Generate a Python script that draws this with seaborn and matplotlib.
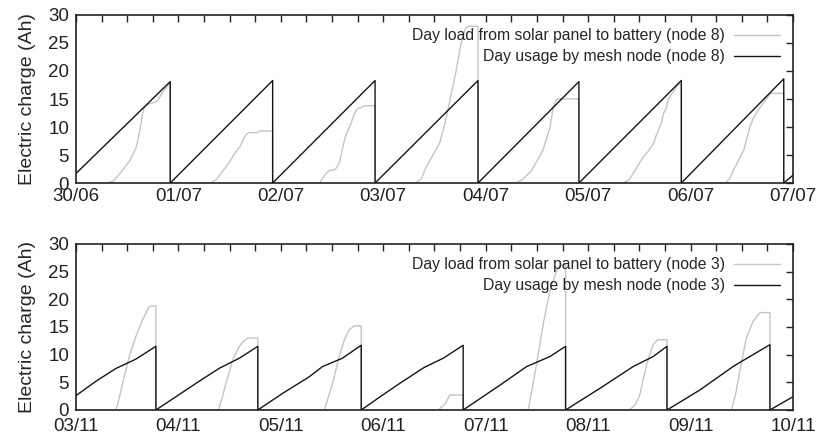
import matplotlib
matplotlib.use("Agg")
import matplotlib.pyplot as plt
from matplotlib.ticker import MultipleLocator
import pandas as pd
import seaborn as sns

# ---- Node 8, 30/06 - 07/07 (x in days since first tick) ----
july_ticks = ["30/06", "01/07", "02/07", "03/07", "04/07", "05/07", "06/07", "07/07"]

july_usage_t = [0.0, 0.92, 0.92, 1.92, 1.92, 2.92, 2.92, 3.925, 3.925,
                4.91, 4.91, 5.91, 5.91, 6.91, 6.91, 7.0]
july_usage_v = [1.7, 18.1, 0.0, 18.3, 0.0, 18.3, 0.0, 18.3, 0.0,
                18.1, 0.0, 18.3, 0.0, 18.6, 0.0, 1.4]

july_solar_t = [0.0, 0.30, 0.36, 0.43, 0.53, 0.59, 0.625, 0.65, 0.67, 0.72, 0.77, 0.80, 0.85, 0.885, 0.92, 0.92,
                1.31, 1.37, 1.44, 1.50, 1.54, 1.58, 1.60, 1.63, 1.66, 1.69, 1.77, 1.80, 1.92, 1.92,
                2.38, 2.44, 2.47, 2.53, 2.57, 2.60, 2.63, 2.68, 2.72, 2.75, 2.79, 2.81, 2.92, 2.92,
                3.31, 3.37, 3.42, 3.55, 3.60, 3.63, 3.70, 3.76, 3.80, 3.83, 3.925, 3.925,
                4.29, 4.36, 4.45, 4.56, 4.63, 4.66, 4.69, 4.72, 4.91, 4.91,
                5.345, 5.40, 5.44, 5.50, 5.54, 5.58, 5.64, 5.665, 5.69, 5.72, 5.735, 5.76, 5.78, 5.82, 5.85, 5.87, 5.91, 5.91,
                6.34, 6.38, 6.42, 6.52, 6.58, 6.62, 6.66, 6.73, 6.76, 6.78, 6.91, 6.91, 7.0]
july_solar_v = [0.0, 0.0, 0.3, 1.7, 4.1, 6.5, 9.5, 12.4, 13.6, 14.2, 14.4, 14.8, 16.3, 17.1, 18.0, 0.0,
                0.0, 0.6, 2.3, 3.8, 5.0, 6.1, 6.4, 7.7, 8.6, 9.0, 9.0, 9.3, 9.3, 0.0,
                0.0, 1.7, 2.2, 2.4, 3.5, 6.0, 8.3, 10.4, 12.5, 13.3, 13.5, 13.8, 13.8, 0.0,
                0.0, 0.7, 2.9, 7.1, 10.5, 13.0, 19.0, 24.9, 27.5, 28.0, 28.0, 0.0,
                0.0, 0.6, 2.3, 5.9, 10.1, 13.6, 14.9, 15.0, 15.0, 0.0,
                0.0, 0.6, 1.7, 3.5, 4.7, 5.5, 7.1, 8.5, 9.5, 11.0, 12.4, 13.2, 14.8, 16.0, 16.8, 17.5, 17.6, 0.0,
                0.0, 0.7, 2.3, 5.9, 10.1, 11.8, 13.0, 14.8, 15.5, 16.0, 16.0, 0.0, 0.0]

# ---- Node 3, 03/11 - 10/11 ----
nov_ticks = ["03/11", "04/11", "05/11", "06/11", "07/11", "08/11", "09/11", "10/11"]

nov_usage_t = [0.0, 0.195, 0.39, 0.585, 0.78, 0.78,
               0.976, 1.17, 1.40, 1.594, 1.775, 1.775,
               2.017, 2.277, 2.407, 2.60, 2.785, 2.785,
               2.97, 3.16, 3.40, 3.59, 3.78, 3.78,
               4.14, 4.40, 4.626, 4.78, 4.78,
               5.114, 5.44, 5.634, 5.77, 5.77,
               6.09, 6.415, 6.578, 6.775, 6.775, 7.0]
nov_usage_v = [2.6, 5.2, 7.5, 9.2, 11.5, 0.0,
               2.4, 4.8, 7.55, 9.35, 11.5, 0.0,
               3.0, 6.0, 7.85, 9.35, 11.7, 0.0,
               2.4, 4.8, 7.7, 9.4, 11.7, 0.0,
               4.5, 7.85, 9.65, 11.5, 0.0,
               3.9, 7.85, 9.65, 11.5, 0.0,
               3.6, 7.85, 9.65, 11.8, 0.0, 2.4]

nov_solar_t = [0.0, 0.39, 0.42, 0.455, 0.52, 0.585, 0.65, 0.69, 0.716, 0.78, 0.78,
               1.392, 1.43, 1.464, 1.53, 1.594, 1.63, 1.66, 1.69, 1.775, 1.775,
               2.424, 2.465, 2.505, 2.57, 2.62, 2.667, 2.716, 2.785, 2.785,
               3.536, 3.60, 3.65, 3.78, 3.78,
               4.414, 4.45, 4.496, 4.56, 4.626, 4.69, 4.72, 4.78, 4.78,
               5.406, 5.46, 5.504, 5.57, 5.634, 5.68, 5.77, 5.77,
               6.40, 6.44, 6.48, 6.545, 6.61, 6.675, 6.69, 6.775, 6.775, 7.0]
nov_solar_v = [0.0, 0.0, 2.0, 4.8, 9.7, 13.3, 16.3, 17.8, 18.7, 18.8, 0.0,
               0.0, 2.4, 4.8, 9.05, 11.5, 12.3, 12.8, 13.0, 13.0, 0.0,
               0.0, 2.4, 4.8, 9.7, 12.7, 14.5, 15.2, 15.2, 0.0,
               0.0, 1.0, 2.7, 2.7, 0.0,
               0.0, 3.5, 8.2, 15.4, 21.4, 25.1, 26.0, 26.3, 0.0,
               0.0, 1.0, 2.7, 8.15, 11.8, 12.7, 12.7, 0.0,
               0.0, 2.8, 6.9, 13.0, 16.0, 17.5, 17.6, 17.6, 0.0, 0.0]

y_ticks = [0, 5, 10, 15, 20, 25, 30]

sns.set_style("white")
plt.rcParams["font.family"] = ["Liberation Sans", "DejaVu Sans"]

SOLAR_COLOR = "#c4c4c4"
USAGE_COLOR = "#151515"

fig = plt.figure(figsize=(8.18, 4.37), dpi=100)
ax_top = fig.add_axes([0.0929, 0.5812, 0.8765, 0.3845])
ax_bot = fig.add_axes([0.0929, 0.0618, 0.8765, 0.3799])


def draw_panel(ax, solar_t, solar_v, usage_t, usage_v, ticks, node, xpad):
    solar = pd.DataFrame({"t": solar_t, "v": solar_v})
    usage = pd.DataFrame({"t": usage_t, "v": usage_v})
    sns.lineplot(data=solar, x="t", y="v", sort=False, estimator=None, ax=ax,
                 color=SOLAR_COLOR, lw=1.0,
                 label=f"Day load from solar panel to battery (node {node})")
    sns.lineplot(data=usage, x="t", y="v", sort=False, estimator=None, ax=ax,
                 color=USAGE_COLOR, lw=1.0,
                 label=f"Day usage by mesh node (node {node})")
    ax.set_xlim(0, 7)
    ax.set_ylim(0, 30)
    ax.set_xticks(range(len(ticks)))
    ax.set_xticklabels(ticks)
    ax.set_yticks(y_ticks)
    ax.xaxis.set_minor_locator(MultipleLocator(0.25))
    ax.tick_params(which="both", direction="in", top=True, right=True,
                   length=5, width=1.0, colors="#222222")
    ax.tick_params(axis="y", which="minor", left=False, right=False)
    ax.tick_params(axis="x", which="major", labelsize=13.5, pad=xpad)
    ax.tick_params(axis="y", which="major", labelsize=13.5, pad=5)
    for sp in ax.spines.values():
        sp.set_visible(True)
        sp.set_linewidth(1.2)
        sp.set_color("#222222")
    ax.set_xlabel("")
    ax.set_ylabel("Electric charge (Ah)", fontsize=14, labelpad=9)
    ax.legend(loc="upper right", frameon=False, markerfirst=False,
              alignment="right", fontsize=11.3, handlelength=2.9,
              handletextpad=0.6, labelspacing=0.38, borderaxespad=0.45,
              borderpad=0.4)


draw_panel(ax_top, july_solar_t, july_solar_v, july_usage_t, july_usage_v, july_ticks, 8, 3.5)
draw_panel(ax_bot, nov_solar_t, nov_solar_v, nov_usage_t, nov_usage_v, nov_ticks, 3, 6)

fig.savefig("out.png", dpi=100)
